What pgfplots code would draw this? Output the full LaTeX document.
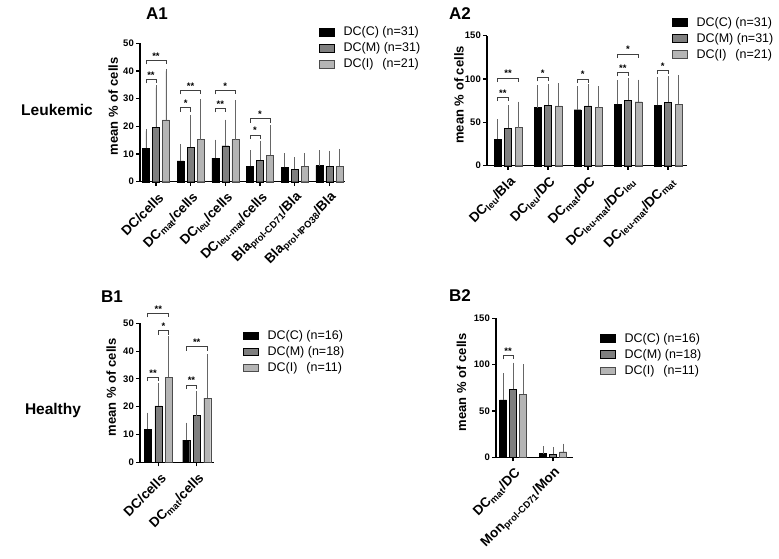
\documentclass[border=0pt]{standalone}
\usepackage{fontspec}
\setmainfont{Liberation Sans}
\usepackage{pgfplots}
\pgfplotsset{compat=1.18}

\definecolor{cM}{HTML}{7F7F7F}
\definecolor{cI}{HTML}{B5B5B5}

\newcommand{\brk}[5]{%
 \draw[line width=0.7pt, black!75] ([xshift=#2, yshift=-4pt]axis cs:#1,#4) -- ([xshift=#2]axis cs:#1,#4) -- ([xshift=#3]axis cs:#1,#4) -- ([xshift=#3, yshift=-4pt]axis cs:#1,#4);
 \node[above, inner sep=1pt, font=\bfseries\fontsize{9.5}{9.5}\selectfont] at ([xshift={(#2+#3)/2}]axis cs:#1,#4) {#5};
}

\pgfplotsset{
 mystyle/.style={
  scale only axis,
  axis x line*=bottom, axis y line*=left,
  axis line style={line width=1.1pt},
  tick align=outside, major tick length=4pt,
  tick style={line width=1.1pt, black},
  ybar, bar width=7pt,
  enlargelimits=false,
  ymin=0,
  /pgf/number format/assume math mode=true,
  yticklabel style={font=\bfseries\fontsize{9.5}{10}\selectfont, inner sep=2pt},
  xticklabel style={font=\bfseries\fontsize{13.5}{13.5}\selectfont, inner sep=1pt, anchor=east, xshift=6pt, yshift=-9pt, rotate=45},
  ylabel={mean \% of cells},
  ylabel style={font=\bfseries\fontsize{13}{13}\selectfont},
  legend style={draw=none, fill=none, inner sep=0pt, font=\fontsize{12.5}{13}\selectfont, row sep=1.5pt, cells={anchor=west}},
  legend image code/.code={\draw[##1] (0pt,-3.8pt) rectangle (15pt,3.8pt); \path (22pt,0pt);},
  legend cell align=left,
  clip=false,
  error bars/y dir=plus, error bars/y explicit,
  error bars/error bar style={line width=0.8pt, black!60},
  error bars/error mark options={line width=0.8pt, black!60, mark size=2.5pt},
 },
}

\begin{document}
\begin{tikzpicture}[x=1pt,y=1pt]
\useasboundingbox (0pt,0pt) rectangle (779pt,558pt);

% ---------------- A1 ----------------
\begin{axis}[mystyle, at={(140pt,376.3pt)}, anchor=south west, width=205pt, height=138.4pt,
  xmin=-0.46, xmax=5.45, ymax=50, ytick={0,10,20,30,40,50},
  xtick={0,1,2,3,4,5},
  xticklabels={DC/cells, DC\textsubscript{mat}/cells, DC\textsubscript{leu}/cells, DC\textsubscript{leu-mat}/cells, Bla\textsubscript{prol-CD71}/Bla, Bla\textsubscript{prol-IPO38}/Bla},
  ylabel style={at={(axis description cs:-0.13,0.545)}, anchor=center},
  legend style={at={(0.873,1.135)}, anchor=north west}]
\addplot[fill=black, draw=black, bar shift=-10pt] coordinates {(0,12.1)+-(0,6.1) (1,7.5)+-(0,5.1) (2,8.5)+-(0,5.8) (3,5.6)+-(0,4.9) (4,5.2)+-(0,4.2) (5,5.8)+-(0,4.6)};
\addplot[fill=cM, draw=black, bar shift=0pt] coordinates {(0,19.7)+-(0,14.3) (1,12.5)+-(0,10.7) (2,13.0)+-(0,8.5) (3,7.8)+-(0,6.1) (4,4.5)+-(0,3.5) (5,5.5)+-(0,4.8)};
\addplot[fill=cI, draw=black!70, bar shift=10pt] coordinates {(0,22.3)+-(0,17.6) (1,15.2)+-(0,13.6) (2,15.2)+-(0,13.4) (3,9.6)+-(0,9.9) (4,5.5)+-(0,4.0) (5,5.5)+-(0,5.5)};
\legend{DC(C) (n=31), DC(M) (n=31), DC(I)\hspace{0.72em}(n=21)}
\brk{0}{-10pt}{0pt}{37}{**}
\brk{0}{-10pt}{10pt}{43.8}{**}
\brk{1}{-10pt}{0pt}{26.8}{*}
\brk{1}{-10pt}{10pt}{33}{**}
\brk{2}{-10pt}{0pt}{26.5}{**}
\brk{2}{-10pt}{10pt}{33}{*}
\brk{3}{-10pt}{0pt}{16.8}{*}
\brk{3}{-10pt}{10pt}{22.8}{*}
\end{axis}

% ---------------- A2 ----------------
\begin{axis}[mystyle, at={(487pt,392.3pt)}, anchor=south west, width=200pt, height=130pt,
  xmin=-0.525, xmax=4.475, ymax=150, ytick={0,50,100,150},
  xtick={0,1,2,3,4}, bar width=7pt,
  xticklabels={DC\textsubscript{leu}/Bla, DC\textsubscript{leu}/DC, DC\textsubscript{mat}/DC, DC\textsubscript{leu-mat}/DC\textsubscript{leu}, DC\textsubscript{leu-mat}/DC\textsubscript{mat}},
  ylabel style={at={(axis description cs:-0.14,0.545)}, anchor=center},
  legend style={at={(0.925,1.16)}, anchor=north west}]
\addplot[fill=black, draw=black, bar shift=-10.5pt] coordinates {(0,30.8)+-(0,20) (1,67)+-(0,23) (2,64.6)+-(0,24.2) (3,70.8)+-(0,25) (4,69.6)+-(0,30)};
\addplot[fill=cM, draw=black, bar shift=0pt] coordinates {(0,43)+-(0,24) (1,70)+-(0,21) (2,69)+-(0,22) (3,75.8)+-(0,22.2) (4,73)+-(0,27.8)};
\addplot[fill=cI, draw=black!70, bar shift=10.5pt] coordinates {(0,44)+-(0,27) (1,69)+-(0,23) (2,67)+-(0,22) (3,73.8)+-(0,22.7) (4,70.8)+-(0,31.2)};
\legend{DC(C) (n=31), DC(M) (n=31), DC(I)\hspace{0.72em}(n=21)}
\brk{0}{-10.5pt}{0pt}{79}{**}
\brk{0}{-10.5pt}{10.5pt}{101}{**}
\brk{1}{-10.5pt}{0pt}{102}{*}
\brk{2}{-10.5pt}{0pt}{100}{*}
\brk{3}{-10.5pt}{0pt}{107.7}{**}
\brk{3}{-10.5pt}{10.5pt}{128.8}{*}
\brk{4}{-10.5pt}{0pt}{110}{*}
\end{axis}

% ---------------- B1 ----------------
\begin{axis}[mystyle, at={(140pt,95.7pt)}, anchor=south west, width=74pt, height=139pt,
  xmin=-0.477, xmax=1.45, ymax=50, ytick={0,10,20,30,40,50},
  xtick={0,1},
  xticklabels={DC/cells, DC\textsubscript{mat}/cells},
  ylabel style={at={(axis description cs:-0.39,0.54)}, anchor=center},
  legend style={at={(1.392,0.966)}, anchor=north west}]
\addplot[fill=black, draw=black, bar shift=-10.5pt] coordinates {(0,11.9)+-(0,5.1) (1,8)+-(0,5.4)};
\addplot[fill=cM, draw=black, bar shift=0pt] coordinates {(0,20.3)+-(0,7.4) (1,16.8)+-(0,8)};
\addplot[fill=cI, draw=black!70, bar shift=10.5pt] coordinates {(0,30.6)+-(0,14) (1,23.1)+-(0,14.9)};
\legend{DC(C) (n=16), DC(M) (n=18), DC(I)\hspace{0.72em}(n=11)}
\brk{0}{-10.5pt}{0pt}{30.6}{**}
\brk{0}{0pt}{10.5pt}{47.4}{*}
\brk{0}{-10.5pt}{10.5pt}{53.6}{**}
\brk{1}{-10.5pt}{0pt}{27.8}{**}
\brk{1}{-10.5pt}{10.5pt}{41.6}{**}
\end{axis}

% ---------------- B2 ----------------
\begin{axis}[mystyle, at={(496pt,100.7pt)}, anchor=south west, width=77pt, height=139pt,
  xmin=-0.425, xmax=1.5, ymax=150, ytick={0,50,100,150},
  xtick={0,1},
  xticklabels={DC\textsubscript{mat}/DC, Mon\textsubscript{prol-CD71}/Mon},
  ylabel style={at={(axis description cs:-0.45,0.54)}, anchor=center},
  legend style={at={(1.351,0.909)}, anchor=north west}]
\addplot[fill=black, draw=black, bar shift=-10pt] coordinates {(0,61.9)+-(0,25.9) (1,4)+-(0,5)};
\addplot[fill=cM, draw=black, bar shift=0pt] coordinates {(0,73.7)+-(0,25.9) (1,3.5)+-(0,5)};
\addplot[fill=cI, draw=black!70, bar shift=10pt] coordinates {(0,68.3)+-(0,29.5) (1,6)+-(0,6)};
\legend{DC(C) (n=16), DC(M) (n=18), DC(I)\hspace{0.72em}(n=11)}
\brk{0}{-10pt}{0pt}{110}{**}
\end{axis}

% ---------------- labels ----------------
\node[font=\bfseries\fontsize{17}{17}\selectfont] at (157pt,544pt) {A1};
\node[font=\bfseries\fontsize{17}{17}\selectfont] at (460pt,544pt) {A2};
\node[font=\bfseries\fontsize{17}{17}\selectfont] at (112pt,261pt) {B1};
\node[font=\bfseries\fontsize{17}{17}\selectfont] at (460pt,262pt) {B2};
\node[font=\bfseries\fontsize{15.5}{16}\selectfont] at (57pt,448pt) {Leukemic};
\node[font=\bfseries\fontsize{15.5}{16}\selectfont] at (53pt,148pt) {Healthy};
\end{tikzpicture}
\end{document}
